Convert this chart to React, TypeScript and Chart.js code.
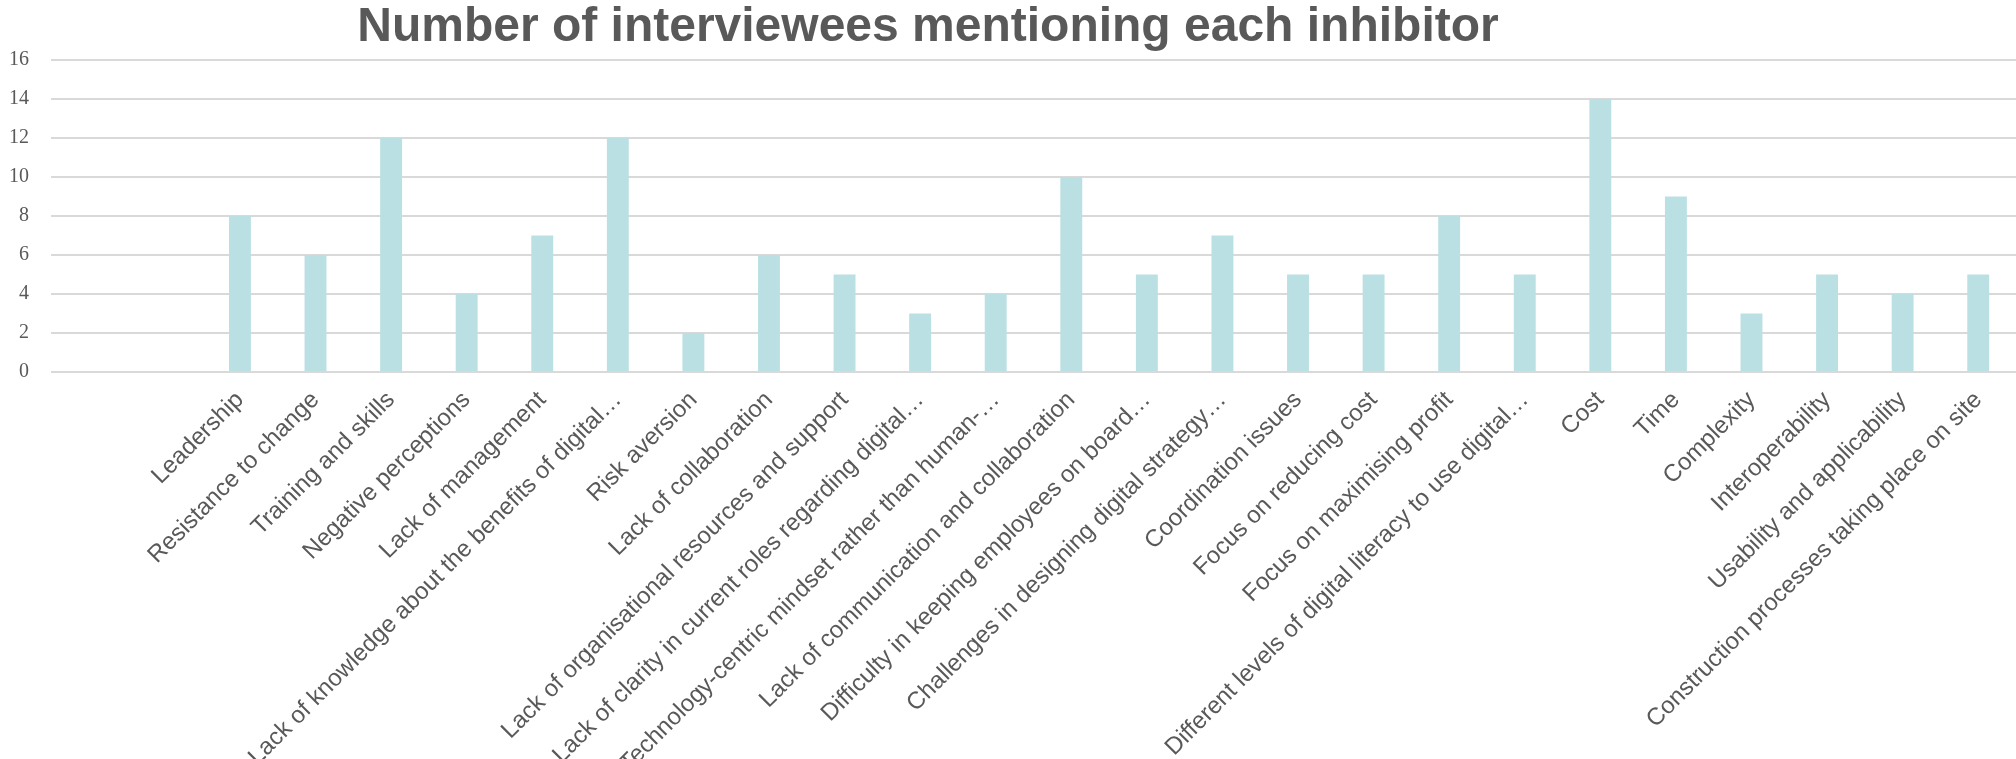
import React, { useEffect, useRef } from "react";
import { Chart, registerables } from "chart.js";

Chart.register(...registerables);

const TITLE = "Number of interviewees mentioning each inhibitor";

const categories: string[] = [
  "",
  "",
  "Leadership",
  "Resistance to change",
  "Training and skills",
  "Negative perceptions",
  "Lack of management",
  "Lack of knowledge about the benefits of digital…",
  "Risk aversion",
  "Lack of collaboration",
  "Lack of organisational resources and support",
  "Lack of clarity in current roles regarding digital…",
  "Technology-centric mindset rather than human-…",
  "Lack of communication and collaboration",
  "Difficulty in keeping employees on board…",
  "Challenges in designing digital strategy…",
  "Coordination issues",
  "Focus on reducing cost",
  "Focus on maximising profit",
  "Different levels of digital literacy to use digital…",
  "Cost",
  "Time",
  "Complexity",
  "Interoperability",
  "Usability and applicability",
  "Construction processes taking place on site",
];

const counts: (number | null)[] = [
  null, null,
  8, 6, 12, 4, 7, 12, 2, 6, 5, 3, 4, 10, 5, 7, 5, 5, 8, 5, 14, 9, 3, 5, 4, 5,
];

const yTicks: number[] = [0, 2, 4, 6, 8, 10, 12, 14, 16];

const titlePlugin = {
  id: "customTitle",
  afterDraw(chart: any) {
    const ctx = chart.ctx;
    ctx.save();
    ctx.font = 'bold 48px "Liberation Sans", Arial, sans-serif';
    ctx.fillStyle = "#595959";
    ctx.textAlign = "center";
    ctx.textBaseline = "alphabetic";
    ctx.fillText(TITLE, chart.width * 0.4603, 41);
    ctx.restore();
  },
};

export default function App() {
  const ref = useRef<HTMLCanvasElement | null>(null);

  useEffect(() => {
    if (!ref.current) return;
    const chart = new Chart(ref.current, {
      type: "bar",
      data: {
        labels: categories,
        datasets: [
          {
            data: counts,
            backgroundColor: "#BBE0E3",
            borderWidth: 0,
            barPercentage: 0.29,
            categoryPercentage: 1,
          },
        ],
      },
      options: {
        animation: false,
        responsive: true,
        maintainAspectRatio: false,
        layout: { padding: { top: 60, left: 0, right: 0, bottom: 0 } },
        plugins: {
          legend: { display: false },
          title: { display: false },
          tooltip: { enabled: false },
        },
        scales: {
          x: {
            grid: { display: false },
            border: { display: false },
            afterFit: (scale: any) => {
              scale.height = 387;
              scale.paddingLeft = 0;
            },
            ticks: {
              autoSkip: false,
              maxRotation: 45,
              minRotation: 45,
              color: "#595959",
              padding: 6,
              font: { family: '"Liberation Sans", Arial, sans-serif', size: 24 },
            },
          },
          y: {
            min: 0,
            max: 16,
            afterBuildTicks: (scale: any) => {
              scale.ticks = yTicks.map((v) => ({ value: v }));
            },
            afterFit: (scale: any) => {
              scale.width = 51;
            },
            border: { display: false },
            grid: { color: "#D9D9D9", lineWidth: 2, drawTicks: false },
            ticks: {
              stepSize: 2,
              color: "#595959",
              padding: 22,
              font: { family: '"Liberation Serif", "Times New Roman", serif', size: 20 },
            },
          },
        },
      },
      plugins: [titlePlugin],
    });
    return () => chart.destroy();
  }, []);

  return (
    <div style={{ position: "absolute", left: 0, top: 0, width: 2016, height: 759 }}>
      <canvas ref={ref} />
    </div>
  );
}
